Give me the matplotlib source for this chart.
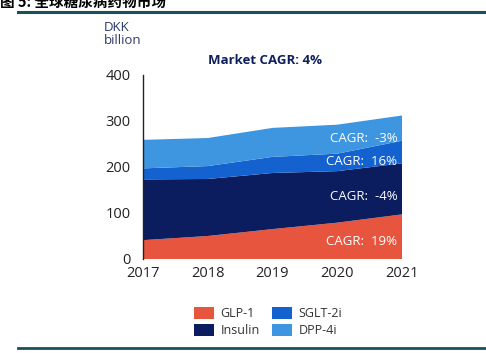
import numpy as np
import matplotlib.pyplot as plt
from matplotlib.patches import Patch
from matplotlib.lines import Line2D

years = [2017, 2018, 2019, 2020, 2021]
glp1 = [41, 50, 65, 79, 97]
insulin = [132, 124, 122, 112, 111]
sglt2 = [24, 28, 35, 38, 49]
dpp4 = [62, 61, 63, 63, 55]

series_names = ["GLP-1", "Insulin", "SGLT-2i", "DPP-4i"]
series_colors = ["#E8553F", "#0B1D5E", "#1462CF", "#3E95E0"]
cagr_labels = ["CAGR:  19%", "CAGR:  -4%", "CAGR:  16%", "CAGR:  -3%"]
cagr_y = [39, 135, 211, 263]

plt.rcParams['font.family'] = ['Open Sans', 'Noto Sans CJK SC', 'DejaVu Sans']

figure = plt.figure(figsize=(4.86, 3.53), dpi=100)
axes = figure.add_axes([143 / 486, 1 - 259 / 353, (402 - 143) / 486, (259 - 75) / 353])

axes.stackplot(years, glp1, insulin, sglt2, dpp4, colors=series_colors, linewidth=0)
axes.set_xlim(2017, 2021)
axes.set_ylim(0, 400)
axes.set_xticks(years)
axes.set_yticks([0, 100, 200, 300, 400])
axes.tick_params(length=0, labelsize=10.5, colors="#222222")
axes.tick_params(axis='y', pad=9)
axes.tick_params(axis='x', pad=5)
for side in ["top", "right", "bottom"]:
    axes.spines[side].set_visible(False)
axes.spines["left"].set_color("#222222")
axes.spines["left"].set_linewidth(1.0)

for label, y in zip(cagr_labels, cagr_y):
    axes.text(2020.93, y, label, color="white", fontsize=9.5, ha="right", va="center")

figure.text(265 / 486, 1 - 60 / 353, "Market CAGR: 4%", ha="center", va="center",
            fontsize=9.5, fontweight="bold", color="#0D1F5C")
figure.text(104 / 486, 1 - 34 / 353, "DKK\nbillion", ha="left", va="center",
            fontsize=9.5, color="#2B3A67", linespacing=1.05)

# title (cut off at the top in the source image)
figure.text(0.0, 1 - 3 / 353, "图 5: 全球糖尿病药物市场", ha="left", va="center",
            fontsize=10.5, fontweight="bold", color="black",
            family=['Noto Sans CJK SC', 'DejaVu Sans'])
figure.add_artist(Line2D([18 / 486, 1], [1 - 12 / 353, 1 - 12 / 353], color="#1B4F5E", linewidth=2.2))
figure.add_artist(Line2D([18 / 486, 1], [1 - 348 / 353, 1 - 348 / 353], color="#1B4F5E", linewidth=2.0))

handles = [Patch(facecolor=c, edgecolor="none") for c in series_colors]
# order: GLP-1, Insulin in column 1; SGLT-2i, DPP-4i in column 2
figure.legend(handles, series_names, loc="center", bbox_to_anchor=(268 / 486, 1 - 322 / 353),
              ncol=2, frameon=False, fontsize=9, handlelength=1.6, handleheight=1.1,
              columnspacing=1.0, handletextpad=0.5, labelspacing=0.3, labelcolor="#333333")

figure.savefig("out.png", dpi=100)
plt.close()
